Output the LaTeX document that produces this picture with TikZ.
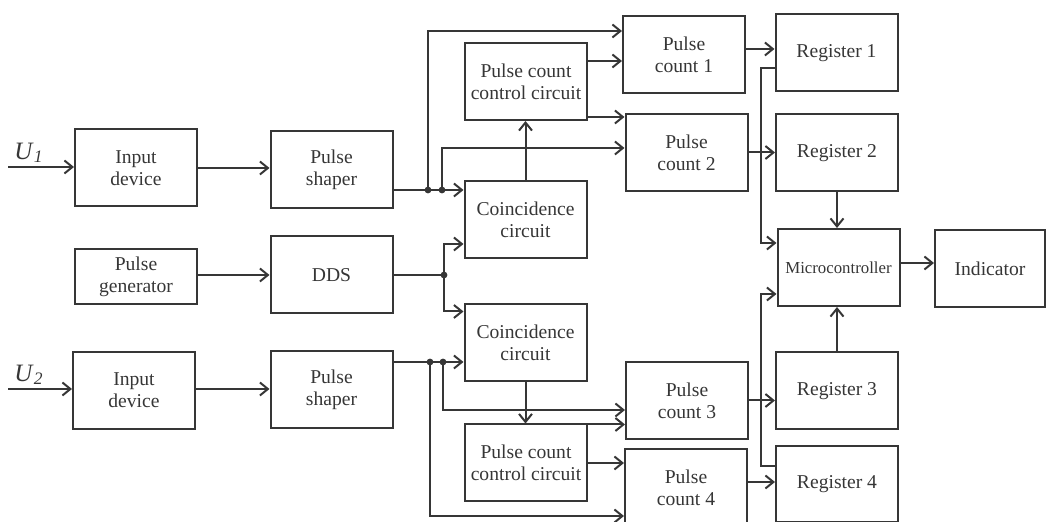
\documentclass[tikz,border=0pt]{standalone}
\usepackage{fontspec}
\setmainfont{Liberation Serif}
\usetikzlibrary{arrows.meta,calc}

\definecolor{ink}{HTML}{363636}

\begin{document}
\begin{tikzpicture}[
    x=0.5pt, y=-0.5pt, %one unit is one pixel of the sketch
    blk/.style={draw=ink, line width=1pt, text=ink, align=center,
        minimum width=61pt, minimum height=38.5pt, inner sep=1pt,
        font=\fontsize{9.8}{11}\selectfont},
    wire/.style={draw=ink, line width=1pt},
    >={Straight Barb[length=4pt,width=6.5pt]},
    ]
    \useasboundingbox (0,0) rectangle (1046,522);
    \clip (0,0) rectangle (1046,522);

    %Inputs
    \node[blk] (in1) at (136,168) {Input\\device};
    \node[blk] (ps1) at (331.5,169.5) {Pulse\\shaper};
    \node[blk, minimum height=27.5pt] (pg) at (136,276.5) {Pulse\\generator};
    \node[blk] (dds) at (331.5,275) {DDS};
    \node[blk] (in2) at (134,390.5) {Input\\device};
    \node[blk] (ps2) at (331.5,389.5) {Pulse\\shaper};

    \coordinate (u1in) at (8,167);
    \coordinate (u2in) at (8,389);
    \node[text=ink, font=\fontsize{12.5}{12}\selectfont] (u1lab) at (29,153)
        {\textit{U}\textsubscript{\textit{1}}};
    \node[text=ink, font=\fontsize{12.5}{12}\selectfont] (u2lab) at (29,375)
        {\textit{U}\textsubscript{\textit{2}}};

    %Coincidence and control
    \node[blk] (pccc1) at (526,81.5) {Pulse count\\control circuit};
    \node[blk] (cc1) at (525.5,219.5) {Coincidence\\circuit};
    \node[blk] (cc2) at (525.5,343) {Coincidence\\circuit};
    \node[blk] (pccc2) at (526,463) {Pulse count\\control circuit};

    %Counters
    \node[blk] (pc1) at (684,54.5) {Pulse\\count 1};
    \node[blk] (pc2) at (686.5,152.5) {Pulse\\count 2};
    \node[blk] (pc3) at (687,400.5) {Pulse\\count 3};
    \node[blk] (pc4) at (686,487.5) {Pulse\\count 4};

    %Registers and output
    \node[blk] (r1) at (836.5,53) {Register 1};
    \node[blk] (r2) at (837,153) {Register 2};
    \node[blk, font=\fontsize{8.4}{10}\selectfont] (mc) at (838.5,267.5) {Microcontroller};
    \node[blk, minimum width=55pt] (ind) at (990,269) {Indicator};
    \node[blk] (r3) at (837,391) {Register 3};
    \node[blk, minimum height=38pt] (r4) at (837,484) {Register 4};

    %junctions and ports
    \coordinate (j1a) at (428,190);
    \coordinate (j1b) at (442,190);
    \coordinate (j2) at (444,275);
    \coordinate (j3a) at (430,362);
    \coordinate (j3b) at (443,362);
    \coordinate (q1a) at ($(pccc1.north east)+(0,19)$);
    \coordinate (q1b) at ($(pccc1.south east)+(0,-4)$);
    \coordinate (q2a) at ($(pccc2.north east)+(0,1)$);
    \coordinate (o1) at ($(pc1.north east)+(0,34)$);
    \coordinate (o4) at ($(pc4.north east)+(0,34)$);
    \coordinate (o5) at ($(mc.north east)+(0,35)$);

    %upper channel
    \draw[wire,->] (u1in) -- (u1in -| in1.west);
    \draw[wire,->] (in1.east) -- (in1.east -| ps1.west);
    \draw[wire,->] (ps1.east |- j1a) -- (j1a -| cc1.west);
    \draw[wire,->] (j1a) |- ($(pc1.north west)+(0,16)$);
    \draw[wire,->] (j1b) |- ($(pc2.north west)+(0,35)$);
    \draw[wire,->] (cc1.north) -- (cc1.north |- pccc1.south);
    \draw[wire,->] (q1a) -- (q1a -| pc1.west);
    \draw[wire,->] (q1b) -- (q1b -| pc2.west);

    %reference
    \draw[wire,->] (pg.east |- dds.east) -- (dds.west);
    \draw[wire] (dds.east) -- (j2);
    \draw[wire,->] (j2) |- ($(cc1.south west)+(0,-15)$);
    \draw[wire,->] (j2) |- ($(cc2.north west)+(0,8)$);

    %lower channel
    \draw[wire,->] (u2in) -- (u2in -| in2.west);
    \draw[wire,->] (in2.east |- u2in) -- (u2in -| ps2.west);
    \draw[wire,->] (ps2.east |- j3a) -- (j3a -| cc2.west);
    \draw[wire,->] (j3b) |- ($(pc3.north west)+(0,49)$);
    \draw[wire,->] (j3a) |- ($(pc4.north west)+(0,68)$);
    \draw[wire,->] (cc2.south) -- (cc2.south |- pccc2.north);
    \draw[wire,->] (q2a) -- (q2a -| pc3.west);
    \draw[wire,->] (pccc2.east) -- (pccc2.east -| pc4.west);

    %counters to registers
    \draw[wire,->] (o1) -- (o1 -| r1.west);
    \draw[wire,->] (pc2.east) -- (pc2.east -| r2.west);
    \draw[wire,->] (pc3.east) -- (pc3.east -| r3.west);
    \draw[wire,->] (o4) -- (o4 -| r4.west);

    %registers to microcontroller
    \draw[wire,->] ($(r1.south west)+(0,-24)$) -- ++(-14,0) |- ($(mc.north west)+(0,15)$);
    \draw[wire,->] ($(r4.north west)+(0,21)$) -- ++(-14,0) |- ($(mc.south west)+(0,-13)$);
    \draw[wire,->] (r2.south) -- (r2.south |- mc.north);
    \draw[wire,->] (r3.north) -- (r3.north |- mc.south);
    \draw[wire,->] (o5) -- (o5 -| ind.west);

    %dots
    \foreach \j in {j1a,j1b,j2,j3a,j3b}
        \fill[ink] (\j) circle[radius=1.7pt];

\end{tikzpicture}
\end{document}
